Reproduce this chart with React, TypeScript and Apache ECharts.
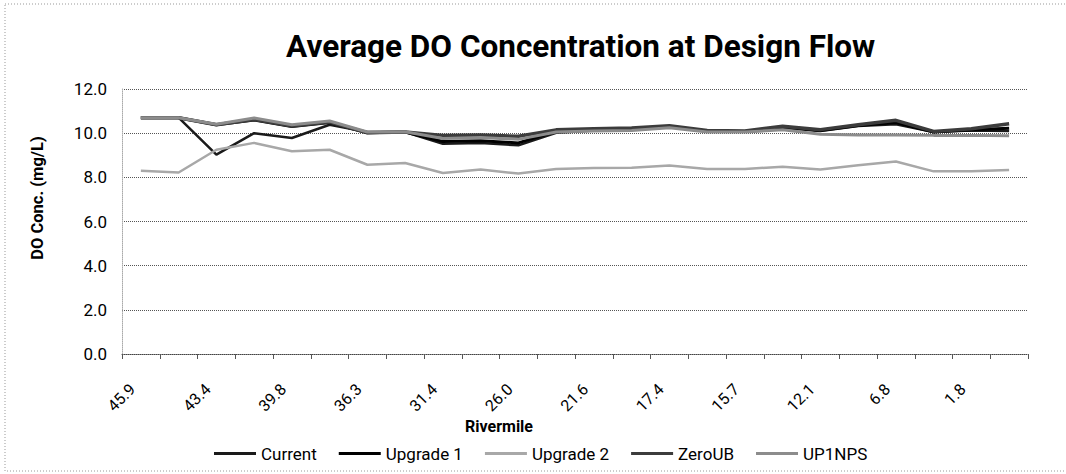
import React, { useEffect, useRef } from "react";
import * as echarts from "echarts";

const rivermiles = [
  "45.9", "44.8", "43.4", "41.6", "39.8", "38.1", "36.3", "33.9",
  "31.4", "28.7", "26.0", "23.8", "21.6", "19.5", "17.4", "16.6",
  "15.7", "13.9", "12.1", "9.5", "6.8", "4.3", "1.8", "0.0",
];

const current = [10.7, 10.7, 9.03, 10.0, 9.78, 10.38, 10.05, 10.05, 9.52, 9.55, 9.45, 10.02, 10.12, 10.18, 10.28, 10.1, 10.06, 10.25, 10.1, 10.32, 10.4, 10.05, 10.12, 10.1];
const upgrade1 = [10.7, 10.7, 10.38, 10.6, 10.3, 10.48, 10.02, 10.05, 9.62, 9.66, 9.56, 10.08, 10.15, 10.2, 10.3, 10.1, 10.08, 10.27, 10.12, 10.35, 10.48, 10.05, 10.15, 10.22];
const upgrade2 = [8.3, 8.22, 9.25, 9.56, 9.18, 9.25, 8.57, 8.65, 8.2, 8.35, 8.17, 8.38, 8.42, 8.43, 8.54, 8.38, 8.38, 8.48, 8.35, 8.55, 8.72, 8.27, 8.27, 8.33];
const zeroUB = [10.7, 10.7, 10.38, 10.62, 10.32, 10.5, 10.02, 10.05, 9.9, 9.92, 9.86, 10.15, 10.2, 10.23, 10.34, 10.12, 10.1, 10.31, 10.16, 10.38, 10.58, 10.08, 10.2, 10.43];
const up1nps = [10.7, 10.7, 10.4, 10.69, 10.38, 10.55, 10.05, 10.06, 9.76, 9.8, 9.72, 10.05, 10.1, 10.12, 10.25, 10.05, 10.05, 10.15, 9.95, 9.92, 9.92, 9.9, 9.9, 9.88];

const seriesNames = ["Current", "Upgrade 1", "Upgrade 2", "ZeroUB", "UP1NPS"];
const yTicks = { min: 0, max: 12, interval: 2 };

const FONT = "Roboto, 'Noto Sans', sans-serif";

export default function App() {
  const ref = useRef<HTMLDivElement>(null);
  useEffect(() => {
    document.body.style.margin = "0";
    const chart = echarts.init(ref.current!, null, { renderer: "svg" });
    const lineStyles = [
      { color: "#1a1a1a", width: 2.5 },
      { color: "#000000", width: 3 },
      { color: "#a8a8a8", width: 2.5 },
      { color: "#3c3c3c", width: 3.5 },
      { color: "#8c8c8c", width: 3 },
    ];
    const datasets = [current, upgrade1, upgrade2, zeroUB, up1nps];
    chart.setOption({
      animation: false,
      backgroundColor: "#ffffff",
      title: {
        text: "Average DO Concentration at Design Flow",
        left: 281,
        top: 25,
        textStyle: { fontFamily: FONT, fontWeight: "bold", fontSize: 31.5, color: "#000" },
      },
      grid: { left: 122, right: 38, top: 89, bottom: 120, containLabel: false },
      legend: {
        data: seriesNames,
        left: 209,
        top: 440,
        icon: "rect",
        itemWidth: 42,
        itemHeight: 3,
        itemGap: 22,
        textStyle: { fontFamily: FONT, fontSize: 17, color: "#000" },
      },
      xAxis: {
        type: "category",
        data: rivermiles,
        boundaryGap: true,
        axisLine: { lineStyle: { color: "#444", type: "dotted", width: 1 } },
        axisTick: { show: true, interval: 0, length: 5, lineStyle: { color: "#555" } },
        axisLabel: {
          interval: 1,
          rotate: 45,
          margin: 24,
          padding: [0, 12, 0, 0],
          fontFamily: FONT,
          fontSize: 16,
          color: "#000",
        },
        splitLine: { show: false },
      },
      yAxis: {
        type: "value",
        min: yTicks.min,
        max: yTicks.max,
        interval: yTicks.interval,
        axisLine: { show: true, lineStyle: { color: "#aaa", type: "dotted" } },
        axisTick: { show: false },
        axisLabel: {
          fontFamily: FONT,
          fontSize: 17,
          color: "#000",
          margin: 15,
          formatter: (v: number) => v.toFixed(1),
        },
        splitLine: { lineStyle: { color: "#555", type: "dotted", width: 1 } },
      },
      graphic: [
        {
          type: "rect",
          shape: { x: 5, y: 4, width: 1100, height: 467 },
          style: { fill: "none", stroke: "#999", lineWidth: 1, lineDash: [1, 2] },
          silent: true,
        },
        {
          type: "text",
          x: 37,
          y: 198,
          rotation: Math.PI / 2,
          style: {
            text: "DO Conc. (mg/L)",
            fontFamily: FONT,
            fontWeight: "bold",
            fontSize: 16.5,
            fill: "#000",
            textAlign: "center",
            textVerticalAlign: "middle",
          },
        },
        {
          type: "text",
          x: 499,
          y: 426,
          style: {
            text: "Rivermile",
            fontFamily: FONT,
            fontWeight: "bold",
            fontSize: 16,
            fill: "#000",
            textAlign: "center",
            textVerticalAlign: "middle",
          },
        },
      ],
      series: seriesNames.map((name, i) => ({
        name,
        type: "line",
        data: datasets[i],
        symbol: "none",
        lineStyle: lineStyles[i],
        itemStyle: { color: lineStyles[i].color },
      })),
    });
    return () => chart.dispose();
  }, []);
  return <div ref={ref} style={{ width: 1066, height: 474 }} />;
}
